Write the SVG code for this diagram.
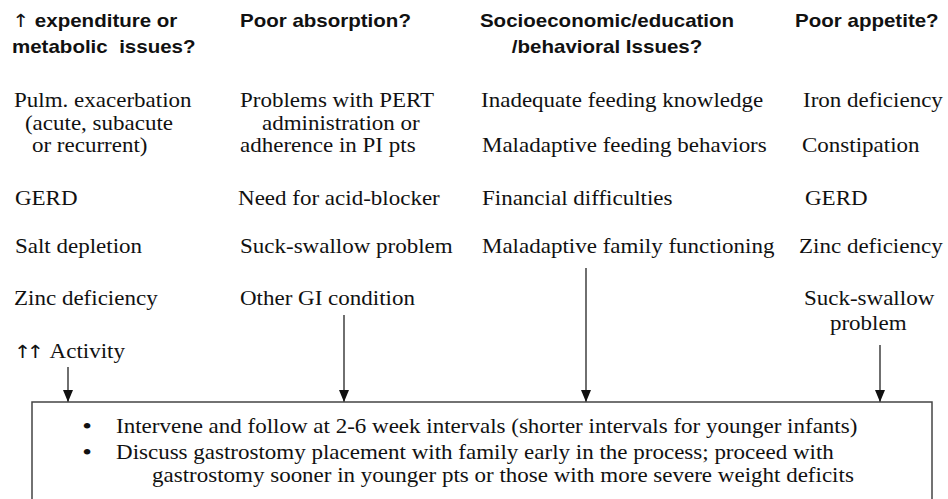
<svg xmlns="http://www.w3.org/2000/svg" width="948" height="499" viewBox="0 0 948 499">
  <defs>
    <marker id="arr" markerWidth="12" markerHeight="10" refX="12" refY="5" orient="auto" markerUnits="userSpaceOnUse" viewBox="0 0 12 10">
      <path d="M0,0 L12,5 L0,10 Z" fill="#111"/>
    </marker>
    <style>
      .h { font-family: "Liberation Sans", Arial, sans-serif; font-weight: bold; font-size: 18px; fill: #111; white-space: pre; }
      .t { font-family: "Liberation Serif", "Times New Roman", serif; font-size: 20px; fill: #111; white-space: pre; }
      .ha { font-family: "DejaVu Sans", sans-serif; font-weight: normal; }
      .ta { font-family: "DejaVu Sans", sans-serif; font-size: 18px; letter-spacing: -4px; }
      .bul { font-size: 24px; }
      .conn { stroke: #222; stroke-width: 1.3; fill: none; }
      .box { fill: #fff; stroke: #444; stroke-width: 1.5; }
    </style>
  </defs>
  <rect width="948" height="499" fill="#fff"/>

  <g id="col-expenditure">
    <g transform="scale(1.14 1)">
      <text class="h" x="10.5" y="27"><tspan class="ha">↑</tspan> expenditure or</text>
      <text class="h" x="10.5" y="53" xml:space="preserve">metabolic  issues?</text>
    </g>
    <g transform="scale(1.15 1)">
      <text class="t" x="12.2" y="107">Pulm. exacerbation</text>
      <text class="t" x="21.7" y="130">(acute, subacute</text>
      <text class="t" x="27.8" y="152">or recurrent)</text>
      <text class="t" x="13" y="205">GERD</text>
      <text class="t" x="13" y="253">Salt depletion</text>
      <text class="t" x="12.2" y="305">Zinc deficiency</text>
      <text class="t" x="12" y="358"><tspan class="ta">↑↑</tspan><tspan dx="9">Activity</tspan></text>
    </g>
  </g>

  <g id="col-absorption">
    <g transform="scale(1.14 1)">
      <text class="h" x="210.5" y="27">Poor absorption?</text>
    </g>
    <g transform="scale(1.15 1)">
      <text class="t" x="208.7" y="107">Problems with PERT</text>
      <text class="t" x="227.8" y="130">administration or</text>
      <text class="t" x="208.7" y="152">adherence in PI pts</text>
      <text class="t" x="207" y="205">Need for acid-blocker</text>
      <text class="t" x="208.7" y="253">Suck-swallow problem</text>
      <text class="t" x="208.7" y="305">Other GI condition</text>
    </g>
  </g>

  <g id="col-socio">
    <g transform="scale(1.14 1)">
      <text class="h" x="421" y="27">Socioeconomic/education</text>
      <text class="h" x="449" y="53">/behavioral Issues?</text>
    </g>
    <g transform="scale(1.15 1)">
      <text class="t" x="418.3" y="107">Inadequate feeding knowledge</text>
      <text class="t" x="419.1" y="152">Maladaptive feeding behaviors</text>
      <text class="t" x="419.1" y="205">Financial difficulties</text>
      <text class="t" x="419.1" y="253">Maladaptive family functioning</text>
    </g>
  </g>

  <g id="col-appetite">
    <g transform="scale(1.14 1)">
      <text class="h" x="697.4" y="27">Poor appetite?</text>
    </g>
    <g transform="scale(1.15 1)">
      <text class="t" x="698.3" y="107">Iron deficiency</text>
      <text class="t" x="697.4" y="152">Constipation</text>
      <text class="t" x="700" y="205">GERD</text>
      <text class="t" x="694.8" y="253">Zinc deficiency</text>
      <text class="t" x="699.1" y="305">Suck-swallow</text>
      <text class="t" x="721.7" y="330">problem</text>
    </g>
  </g>

  <g id="connectors">
    <line class="conn" x1="68" y1="367" x2="68" y2="402" marker-end="url(#arr)"/>
    <line class="conn" x1="344" y1="315" x2="344" y2="402" marker-end="url(#arr)"/>
    <line class="conn" x1="586" y1="268" x2="586" y2="402" marker-end="url(#arr)"/>
    <line class="conn" x1="880" y1="345" x2="880" y2="402" marker-end="url(#arr)"/>
  </g>

  <g id="plan-box">
    <rect class="box" x="32" y="402" width="900" height="120"/>
    <g transform="scale(1.15 1)">
      <text class="t bul" x="71.5" y="434">•</text>
      <text class="t" x="100.9" y="433">Intervene and follow at 2-6 week intervals (shorter intervals for younger infants)</text>
      <text class="t bul" x="71.5" y="460">•</text>
      <text class="t" x="100.9" y="459">Discuss gastrostomy placement with family early in the process; proceed with</text>
      <text class="t" x="132.2" y="482">gastrostomy sooner in younger pts or those with more severe weight deficits</text>
    </g>
  </g>
</svg>
